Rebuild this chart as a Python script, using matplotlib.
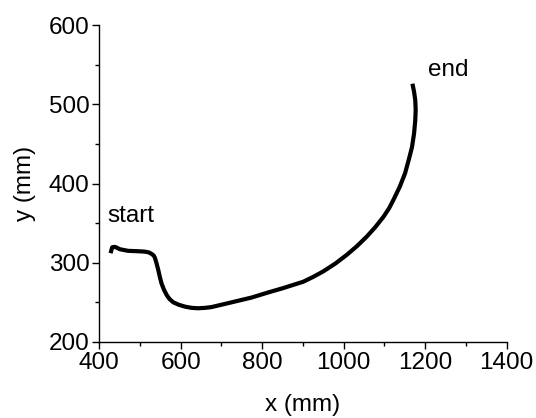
import matplotlib
matplotlib.use("Agg")
import matplotlib.pyplot as plt
from matplotlib.ticker import MultipleLocator

plt.rcParams['font.family'] = ['Liberation Sans', 'DejaVu Sans']

# trajectory (mm)
x_mm = [428, 432, 439, 451, 471, 495, 512, 522, 529, 534, 537, 541, 545,
        549, 553, 559, 566, 573, 582, 595, 611, 627, 643, 660, 676, 717,
        774, 812, 852, 901, 925, 950, 980, 1008, 1033, 1057, 1078, 1098,
        1112, 1124, 1138, 1151, 1160, 1168, 1173, 1176, 1177, 1176, 1173,
        1169]
y_mm = [312, 319.5, 320, 317, 315, 314.5, 314, 313, 311, 309, 306, 299, 291,
        282, 274, 266, 259, 254, 250, 247, 244.5, 243, 242.5, 243, 244, 249,
        256, 262, 268, 276, 282, 289, 299, 310, 321, 333, 345, 358, 369,
        381, 396, 413, 430, 446, 463, 480, 493, 505, 516, 526]

fig = plt.figure(figsize=(5.36, 4.18), dpi=100)
ax = fig.add_axes([0.185, 0.182, 0.76, 0.758])

ax.plot(x_mm, y_mm, color='black', linewidth=3, solid_capstyle='butt',
        solid_joinstyle='round')

ax.text(421, 351, 'start', fontsize=17.5, ha='left', va='baseline')
ax.text(1208, 536, 'end', fontsize=17.5, ha='left', va='baseline')

ax.set_xlim(400, 1400)
ax.set_ylim(200, 600)
ax.xaxis.set_major_locator(MultipleLocator(200))
ax.xaxis.set_minor_locator(MultipleLocator(100))
ax.yaxis.set_major_locator(MultipleLocator(100))
ax.yaxis.set_minor_locator(MultipleLocator(50))

ax.spines['top'].set_visible(False)
ax.spines['right'].set_visible(False)
for s in ['left', 'bottom']:
    ax.spines[s].set_linewidth(1.0)
ax.tick_params(which='major', direction='out', length=5, width=1.0,
               labelsize=17.5, pad=2)
ax.tick_params(which='minor', direction='out', length=3, width=1.0)

ax.set_xlabel('x (mm)', fontsize=17.5, labelpad=15)
ax.set_ylabel('y (mm)', fontsize=17.5, labelpad=9)

fig.savefig('out.png', dpi=100)
